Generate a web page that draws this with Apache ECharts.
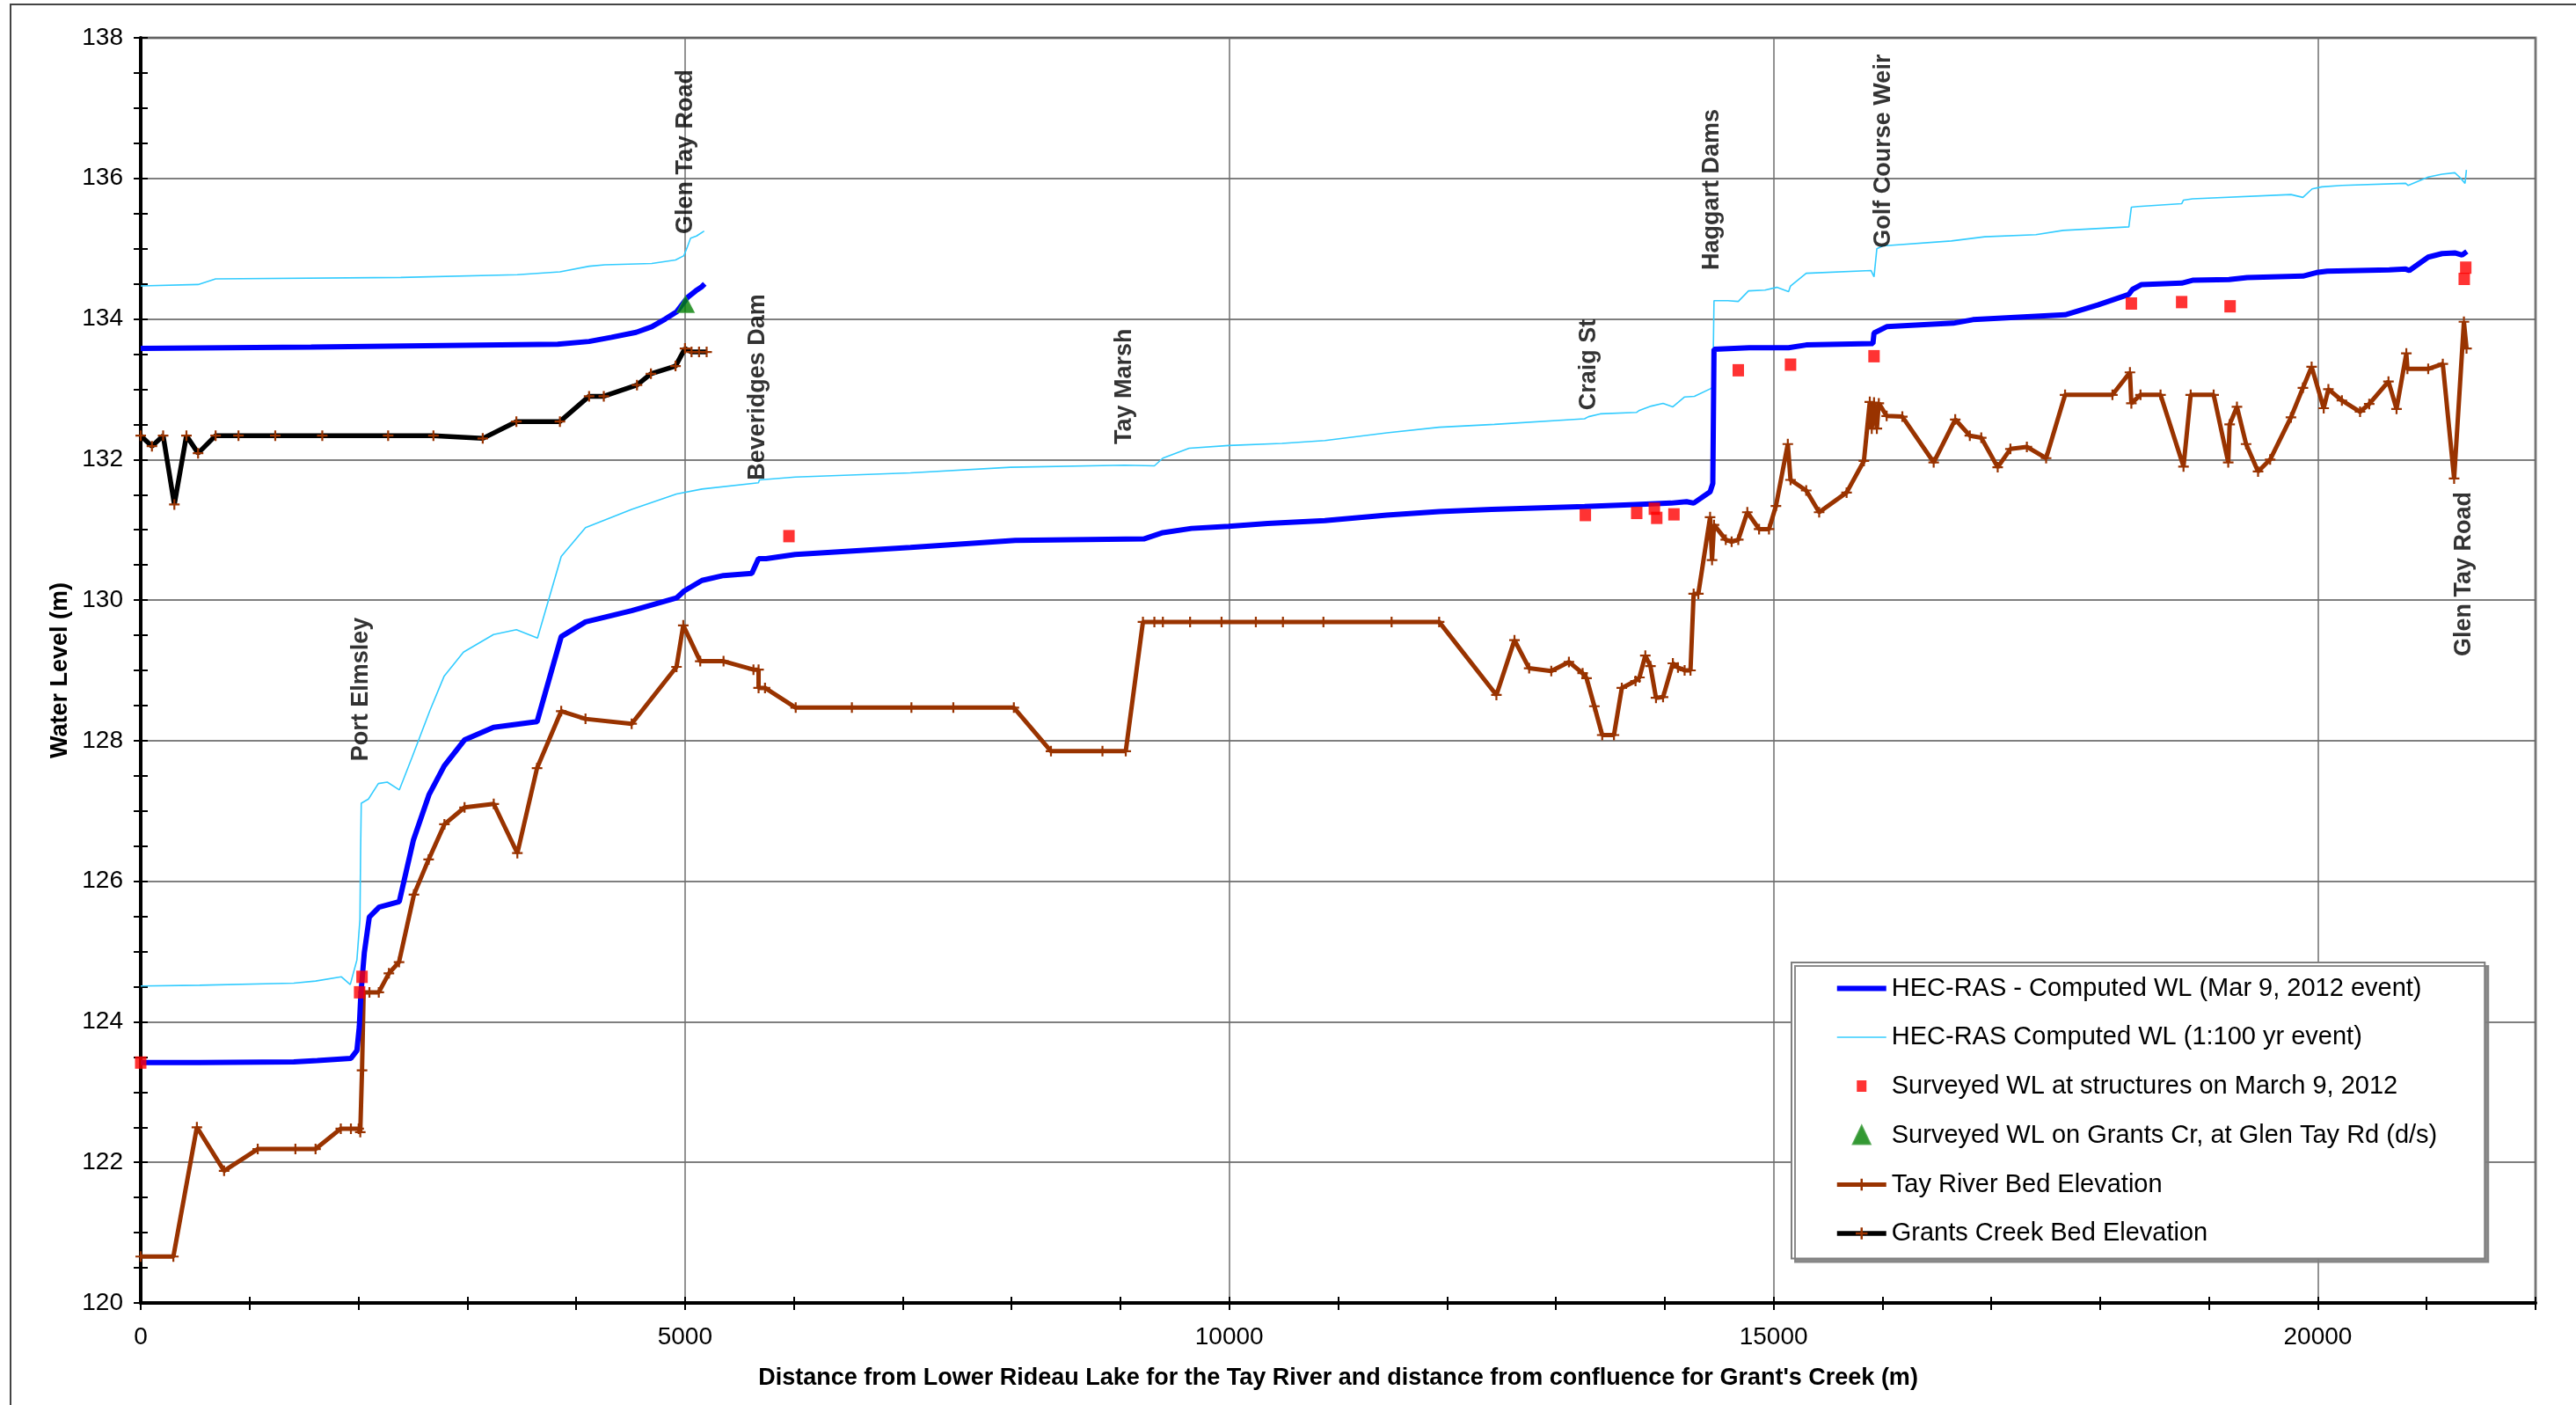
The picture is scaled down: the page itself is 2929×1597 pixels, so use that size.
<!DOCTYPE html>
<html>
<head>
<meta charset="utf-8">
<script src="https://cdn.jsdelivr.net/npm/echarts@6/dist/echarts.min.js"></script>
<style>
  html, body { margin: 0; padding: 0; background: #ffffff; }
  #chart { width: 2929px; height: 1597px; }
</style>
</head>
<body>
<div id="chart"></div>
<script>
// Chainage (m) and elevation (m) pairs along the Tay River and Grants Creek.

const tayRiverBed = [
  [0,120.66],[300,120.66],[516,122.50],[766,121.88],[1075,122.19],[1421,122.19],[1606,122.19],
  [1838,122.48],[1931,122.48],[2002,122.48],[2017,122.43],[2033,123.31],[2048,124.42],[2101,124.42],
  [2187,124.42],[2280,124.69],[2373,124.85],[2510,125.81],[2645,126.31],[2790,126.81],[2975,127.05],
  [3243,127.10],[3460,126.40],[3641,127.61],[3863,128.42],[4086,128.31],[4510,128.24],[4922,129.05],
  [4984,129.64],[5140,129.13],[5354,129.13],[5629,129.01],[5676,129.01],[5676,128.75],[5735,128.75],
  [6017,128.47],[6533,128.47],[7080,128.47],[7465,128.47],[8021,128.47],[8362,127.85],[8835,127.85],
  [9049,127.85],[9207,129.69],[9312,129.69],[9390,129.69],[9640,129.69],[9929,129.69],[10244,129.69],
  [10493,129.69],[10865,129.69],[11491,129.69],[11928,129.69],[12454,128.65],[12620,129.43],[12755,129.03],
  [12958,128.99],[13120,129.12],[13246,128.96],[13282,128.89],[13354,128.49],[13426,128.08],[13534,128.08],
  [13606,128.75],[13732,128.85],[13768,128.90],[13822,129.21],[13869,129.06],[13920,128.61],[13985,128.62],
  [14075,129.10],[14122,129.04],[14183,129.00],[14237,129.00],[14266,130.09],[14309,130.09],[14417,131.18],
  [14435,130.57],[14453,131.07],[14561,130.86],[14615,130.83],[14676,130.86],[14759,131.25],[14867,131.01],
  [14958,131.01],[15022,131.34],[15131,132.22],[15156,131.71],[15300,131.56],[15419,131.25],[15671,131.53],
  [15830,131.98],[15884,132.82],[15902,132.44],[15923,132.81],[15949,132.44],[15967,132.80],[16039,132.62],
  [16183,132.61],[16471,131.96],[16669,132.57],[16803,132.34],[16908,132.31],[17059,131.89],[17176,132.15],
  [17327,132.18],[17504,132.02],[17678,132.92],[18113,132.92],[18274,133.24],[18287,132.80],[18371,132.92],
  [18555,132.92],[18766,131.90],[18832,132.92],[19043,132.92],[19177,131.96],[19190,132.50],[19257,132.75],
  [19341,132.22],[19451,131.83],[19562,132.00],[19753,132.60],[19863,133.02],[19943,133.32],[20054,132.73],
  [20097,133.00],[20221,132.84],[20388,132.68],[20472,132.79],[20649,133.11],[20723,132.72],[20813,133.51],
  [20823,133.29],[21014,133.29],[21148,133.36],[21252,131.73],[21342,133.96],[21366,133.58]
];

const grantsCreekBed = [
  [0,132.34],[103,132.19],[206,132.34],[309,131.36],[420,132.34],[527,132.09],[688,132.34],[898,132.34],
  [1236,132.34],[1668,132.34],[2273,132.34],[2689,132.34],[3142,132.30],[3451,132.54],[3851,132.54],
  [4119,132.90],[4254,132.90],[4559,133.06],[4687,133.22],[4913,133.33],[5000,133.58],[5060,133.53],
  [5129,133.53],[5199,133.53]
];

const tayWlMar2012 = [
  [0,123.42],[541,123.42],[1406,123.43],[1622,123.45],[1931,123.48],[1986,123.59],[2008,123.93],
  [2023,124.41],[2054,124.98],[2100,125.49],[2190,125.63],[2375,125.71],[2504,126.58],[2648,127.23],
  [2788,127.64],[2974,128.01],[3241,128.19],[3641,128.27],[3863,129.48],[4086,129.69],[4510,129.85],
  [4922,130.03],[4992,130.13],[5156,130.28],[5354,130.35],[5614,130.38],[5675,130.59],[5745,130.59],
  [6013,130.65],[7071,130.75],[8034,130.85],[9215,130.87],[9390,130.96],[9653,131.02],[9994,131.05],
  [10353,131.09],[10878,131.13],[11447,131.21],[11928,131.26],[12410,131.29],[13264,131.33],[13732,131.36],
  [14057,131.38],[14201,131.40],[14266,131.38],[14417,131.54],[14442,131.66],[14453,133.57],[14777,133.59],
  [15138,133.59],[15300,133.63],[15913,133.65],[15923,133.80],[16039,133.89],[16651,133.94],[16832,133.99],
  [17678,134.06],[17979,134.20],[18264,134.35],[18297,134.42],[18381,134.49],[18749,134.51],[18849,134.55],
  [19184,134.56],[19351,134.59],[19863,134.61],[19987,134.66],[20087,134.68],[20656,134.70],[20807,134.71],
  [20840,134.69],[21014,134.88],[21141,134.93],[21258,134.94],[21325,134.91],[21369,134.96]
];

const grantsWlMar2012 = [
  [0,133.58],[1565,133.60],[3830,133.64],[4119,133.68],[4325,133.74],[4551,133.81],[4695,133.89],
  [4819,134.00],[4922,134.10],[5025,134.31],[5099,134.40],[5148,134.45],[5181,134.50]
];

const tayWl100yr = [
  [0,124.51],[541,124.52],[1406,124.55],[1606,124.58],[1844,124.64],[1925,124.53],[1986,124.88],
  [2014,125.46],[2020,126.42],[2026,127.11],[2092,127.17],[2183,127.39],[2265,127.41],[2376,127.30],
  [2492,127.76],[2657,128.43],[2788,128.92],[2965,129.26],[3241,129.51],[3451,129.58],[3645,129.46],
  [3863,130.62],[4086,131.03],[4510,131.29],[4922,131.51],[5156,131.58],[5675,131.67],[5684,131.71],
  [6013,131.75],[7071,131.81],[7990,131.89],[9040,131.92],[9312,131.91],[9390,132.02],[9631,132.16],
  [9994,132.20],[10484,132.23],[10878,132.27],[11447,132.38],[11928,132.46],[12435,132.50],[13264,132.58],
  [13300,132.61],[13408,132.65],[13740,132.67],[13768,132.70],[13876,132.76],[13985,132.80],[14075,132.75],
  [14183,132.89],[14273,132.90],[14424,133.01],[14442,133.03],[14453,134.26],[14579,134.26],[14676,134.25],
  [14770,134.40],[14921,134.41],[15030,134.45],[15138,134.39],[15156,134.47],[15300,134.65],[15895,134.69],
  [15923,134.60],[15949,135.00],[16003,135.04],[16633,135.11],[16940,135.17],[17410,135.20],[17660,135.26],
  [18264,135.31],[18287,135.59],[18347,135.60],[18749,135.64],[18765,135.69],[18849,135.71],[19753,135.77],
  [19863,135.73],[19947,135.85],[20037,135.88],[20221,135.90],[20807,135.93],[20830,135.90],[21014,136.02],
  [21141,136.06],[21258,136.08],[21308,136.01],[21352,135.93],[21365,136.12]
];

const grantsWl100yr = [
  [0,134.47],[527,134.49],[688,134.57],[2389,134.59],[3460,134.63],[3851,134.67],[4119,134.75],
  [4263,134.77],[4695,134.79],[4913,134.84],[4990,134.90],[5023,135.03],[5051,135.15],[5106,135.18],
  [5176,135.25]
];

const surveyedStructures = [
  [0,123.42],[2011,124.42],[2033,124.64],[5955,130.91],[13271,131.21],[13743,131.24],[13905,131.30],
  [13927,131.17],[14085,131.22],[14676,133.27],[15156,133.35],[15923,133.47],[18287,134.22],
  [18749,134.24],[19194,134.18],[21345,134.57],[21359,134.73]
];

const surveyedGrants = [[5005,134.21]];

// Structure / landmark names, their chainage and the elevation at the middle of each label
const landmarkNames = ['Port Elmsley','Glen Tay Road','Beveridges Dam','Tay Marsh','Craig St',
                       'Haggart Dams','Golf Course Weir','Glen Tay Road'];
const landmarkChainage = [2021, 5005, 5668, 9039, 13300, 14435, 16007, 21342];
const landmarkLevel = [128.73, 136.38, 133.03, 133.04, 133.35, 135.84, 136.39, 130.37];

const xMin = 0, xMax = 22000, xMajor = 5000, xMinor = 1000;
const yMin = 120, yMax = 138, yMajor = 2;

const NAME_MAR = 'HEC-RAS - Computed WL (Mar 9, 2012 event)';
const NAME_100 = 'HEC-RAS Computed WL (1:100 yr event)';
const NAME_RED = 'Surveyed WL at structures on March 9, 2012';
const NAME_GRN = 'Surveyed WL on Grants Cr, at Glen Tay Rd (d/s)';
const NAME_TAY = 'Tay River Bed Elevation';
const NAME_GRC = 'Grants Creek Bed Elevation';

const FONT = '"Liberation Sans", Arial, sans-serif';
const BROWN = '#993300';
const BLUE = '#0000FF';
const CYAN = '#33CCFF';

// "+" marker, padded inside its box so the cross stays small
const plusMarker = 'path://M0,0 M20,20 M8.9,4 L11.1,4 L11.1,16 L8.9,16 Z M4,8.9 L16,8.9 L16,11.1 L4,11.1 Z';

const landmarkData = landmarkNames.map((n, i) => ({ value: [landmarkChainage[i], landmarkLevel[i]], name: n }));

const chart = echarts.init(document.getElementById('chart'), null, { renderer: 'canvas' });

const gridBox = { left: 160, top: 43, right: 46, bottom: 116 };

const option = {
  animation: false,
  backgroundColor: '#ffffff',
  textStyle: { fontFamily: FONT },
  graphic: [{
    type: 'rect', z: -10, silent: true,
    shape: { x: 12, y: 5, width: 2940, height: 1620 },
    style: { fill: 'none', stroke: '#444', lineWidth: 2 }
  }],
  grid: {
    left: gridBox.left, top: gridBox.top, right: gridBox.right, bottom: gridBox.bottom,
    show: true, borderColor: '#8c8c8c', borderWidth: 3, backgroundColor: 'transparent',
    outerBoundsMode: 'none', containLabel: false
  },
  legend: {
    orient: 'vertical',
    left: 2037, top: 1094,
    padding: [15, 54, 14, 49],
    itemWidth: 56, itemHeight: 28, itemGap: 26.5,
    backgroundColor: '#ffffff',
    borderColor: '#7f7f7f', borderWidth: 2,
    shadowColor: 'rgba(128,128,128,0.9)', shadowOffsetX: 4, shadowOffsetY: 4, shadowBlur: 0,
    textStyle: { fontFamily: FONT, fontSize: 29, color: '#000', padding: [0, 0, 0, 1] },
    selectedMode: false,
    data: [
      { name: NAME_MAR, icon: 'path://M0,0 M56,28 M0,11 L56,11 L56,17 L0,17 Z' },
      { name: NAME_100, icon: 'path://M0,0 M56,28 M0,13.2 L56,13.2 L56,14.8 L0,14.8 Z' },
      { name: NAME_RED, icon: 'path://M0,0 M28,28 M8.5,7.5 L19.5,7.5 L19.5,20.5 L8.5,20.5 Z' },
      { name: NAME_GRN, icon: 'path://M0,0 M28,28 M14,3 L24,24 L4,24 Z' },
      { name: NAME_TAY, lineStyle: { width: 5, color: BROWN } },
      { name: NAME_GRC, lineStyle: { width: 5.5, color: '#000000' } }
    ]
  },
  xAxis: [
    {
      type: 'value', min: xMin, max: xMax, interval: xMinor, position: 'bottom',
      name: 'Distance from Lower Rideau Lake for the Tay River and distance from confluence for Grant\'s Creek (m)',
      nameLocation: 'middle', nameGap: 72,
      nameTextStyle: { fontFamily: FONT, fontSize: 27, fontWeight: 'bold', color: '#000' },
      axisLine: { show: true, onZero: false, lineStyle: { color: '#000', width: 4 } },
      axisTick: { show: true, inside: false, length: 8, lineStyle: { color: '#000', width: 2 } },
      axisLabel: {
        show: true, margin: 25, fontFamily: FONT, fontSize: 28, color: '#000',
        formatter: v => (v % xMajor === 0 ? String(v) : '')
      },
      splitLine: { show: false }, minorTick: { show: false }
    },
    {
      type: 'value', min: xMin, max: xMax, interval: xMinor, position: 'bottom',
      axisLine: { show: false, onZero: false },
      axisTick: { show: true, inside: true, length: 7, lineStyle: { color: '#000', width: 2 } },
      axisLabel: { show: false }, splitLine: { show: false }
    },
    {
      type: 'value', min: xMin, max: xMax, interval: xMajor, position: 'bottom',
      axisLine: { show: false, onZero: false }, axisTick: { show: false }, axisLabel: { show: false },
      splitLine: { show: true, lineStyle: { color: '#6e6e6e', width: 1.5 } }, z: 0
    }
  ],
  yAxis: [
    {
      type: 'value', min: yMin, max: yMax, interval: yMajor, position: 'left',
      name: 'Water Level (m)', nameLocation: 'middle', nameGap: 78, nameRotate: 90,
      nameTextStyle: { fontFamily: FONT, fontSize: 27, fontWeight: 'bold', color: '#000' },
      axisLine: { show: true, onZero: false, lineStyle: { color: '#000', width: 4 } },
      axisTick: { show: true, inside: false, length: 8, lineStyle: { color: '#000', width: 2 } },
      minorTick: { show: true, splitNumber: 4, length: 8, lineStyle: { color: '#000', width: 2 } },
      axisLabel: { show: true, margin: 20, fontFamily: FONT, fontSize: 28, color: '#000' },
      splitLine: { show: true, lineStyle: { color: '#555555', width: 1.5 } }
    },
    {
      type: 'value', min: yMin, max: yMax, interval: yMajor, position: 'left',
      axisLine: { show: false, onZero: false },
      axisTick: { show: true, inside: true, length: 8, lineStyle: { color: '#000', width: 2 } },
      minorTick: { show: true, splitNumber: 4, length: 8, lineStyle: { color: '#000', width: 2 } },
      axisLabel: { show: false }, splitLine: { show: false }
    }
  ],
  series: [
    {
      name: NAME_TAY, type: 'line', data: tayRiverBed, z: 3,
      symbol: plusMarker, symbolSize: 20, showSymbol: true, showAllSymbol: true,
      lineStyle: { color: BROWN, width: 5 }, itemStyle: { color: BROWN },
      emphasis: { disabled: true }
    },
    {
      name: NAME_GRC, type: 'line', data: grantsCreekBed, z: 3,
      symbol: plusMarker, symbolSize: 20, showSymbol: true, showAllSymbol: true,
      lineStyle: { color: '#000000', width: 5.5 }, itemStyle: { color: BROWN },
      emphasis: { disabled: true }
    },
    {
      name: NAME_100, type: 'line', data: tayWl100yr, z: 4, symbol: 'none',
      lineStyle: { color: CYAN, width: 1.6 }, itemStyle: { color: CYAN }, emphasis: { disabled: true }
    },
    {
      name: NAME_100, type: 'line', data: grantsWl100yr, z: 4, symbol: 'none',
      lineStyle: { color: CYAN, width: 1.6 }, itemStyle: { color: CYAN }, emphasis: { disabled: true }
    },
    {
      name: NAME_MAR, type: 'line', data: tayWlMar2012, z: 5, symbol: 'none',
      lineStyle: { color: BLUE, width: 6 }, itemStyle: { color: BLUE }, emphasis: { disabled: true }
    },
    {
      name: NAME_MAR, type: 'line', data: grantsWlMar2012, z: 5, symbol: 'none',
      lineStyle: { color: BLUE, width: 6 }, itemStyle: { color: BLUE }, emphasis: { disabled: true }
    },
    {
      name: NAME_RED, type: 'scatter', data: surveyedStructures, z: 6, clip: false,
      symbol: 'rect', symbolSize: [13, 14], itemStyle: { color: '#FF0000' }, emphasis: { disabled: true }
    },
    {
      name: NAME_GRN, type: 'scatter', data: surveyedGrants, z: 7, clip: false,
      symbol: 'triangle', symbolSize: [20, 19],
      itemStyle: { color: '#008000', borderColor: '#3a9a3a', borderWidth: 1 }, emphasis: { disabled: true }
    },
    {
      name: 'landmarks', type: 'scatter', data: landmarkData, z: 8, silent: true,
      symbolSize: 0, clip: false,
      label: {
        show: true, position: 'inside', rotate: 90, align: 'center', verticalAlign: 'middle',
        formatter: p => p.name, fontFamily: FONT, fontSize: 27, fontWeight: 'bold', color: '#000'
      }
    }
  ]
};

chart.setOption(option);
</script>
</body>
</html>
